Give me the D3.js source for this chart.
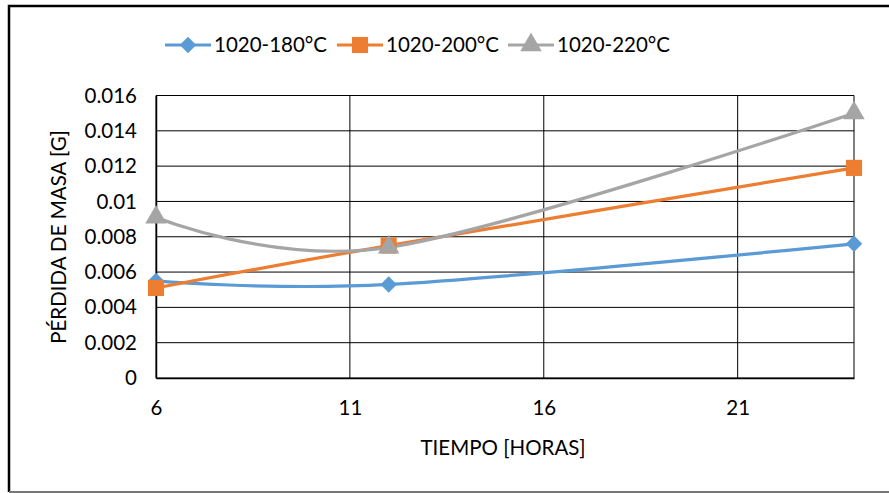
<!DOCTYPE html>
<html>
<head>
<meta charset="utf-8">
<script src="https://cdn.jsdelivr.net/npm/d3@7"></script>
<style>
  body { margin: 0; background: #fff; }
  svg { display: block; font-family: Lato, "Open Sans", sans-serif; }
</style>
</head>
<body>
<svg id="chart" width="889" height="493"></svg>
<script>
// datos
const horas = [6, 12, 24]
const serieNames = ['1020-180°C', '1020-200°C', '1020-220°C']
const perdida180 = [0.0055, 0.0053, 0.0076]
const perdida200 = [0.0051, 0.0075, 0.0119]
const perdida220 = [0.0091, 0.0074, 0.0150]
const xTicks = [6, 11, 16, 21]
const yTicks = [0, 0.002, 0.004, 0.006, 0.008, 0.01, 0.012, 0.014, 0.016]

const colors = ['#5B9BD5', '#ED7D31', '#A5A5A5']
// rombo = cuadrado girado 45 grados (como en Excel)
const symbols = [d3.symbolSquare, d3.symbolSquare, d3.symbolTriangle]
const symbolRot = [45, 0, 0]
const symbolSizes = [135, 260, 200]
const fontSize = 20.5

const series = [perdida180, perdida200, perdida220].map((vals, i) => ({
  name: serieNames[i],
  color: colors[i],
  points: vals.map((v, j) => ({ x: horas[j], y: v }))
}))

const svg = d3.select('#chart')

// marco exterior
svg.append('path')
  .attr('d', 'M9,492 L9,6 L889,6')
  .attr('fill', 'none')
  .attr('stroke', '#000')
  .attr('stroke-width', 2.5)
svg.append('line')
  .attr('x1', 9).attr('x2', 889).attr('y1', 492).attr('y2', 492)
  .attr('stroke', '#777').attr('stroke-width', 2)

const plot = { left: 156, right: 854, top: 95.5, bottom: 378 }

const x = d3.scaleLinear().domain([6, 24]).range([plot.left, plot.right])
const y = d3.scaleLinear().domain([0, 0.016]).range([plot.bottom, plot.top])

// cuadricula
const grid = svg.append('g')
grid.selectAll('line.h')
  .data(yTicks)
  .join('line')
  .attr('class', 'h')
  .attr('x1', plot.left).attr('x2', plot.right)
  .attr('y1', d => y(d)).attr('y2', d => y(d))
  .attr('stroke', '#000').attr('stroke-width', 1)
grid.selectAll('line.v')
  .data(xTicks.concat([24]))
  .join('line')
  .attr('class', 'v')
  .attr('x1', d => x(d)).attr('x2', d => x(d))
  .attr('y1', plot.top).attr('y2', plot.bottom)
  .attr('stroke', '#000').attr('stroke-width', 1)

// ejes
const yAxis = svg.append('g')
  .attr('transform', `translate(${plot.left},0)`)
  .call(d3.axisLeft(y).tickValues(yTicks).tickSize(0).tickPadding(19).tickFormat(d => String(+d.toFixed(3))))
yAxis.select('.domain').attr('stroke', '#000').attr('stroke-width', 1.5)
yAxis.selectAll('text').attr('font-size', fontSize).attr('fill', '#000')

const xAxis = svg.append('g')
  .attr('transform', `translate(0,${plot.bottom})`)
  .call(d3.axisBottom(x).tickValues(xTicks).tickSize(0).tickPadding(22))
xAxis.select('.domain').attr('stroke', '#000').attr('stroke-width', 1.5)
xAxis.selectAll('text').attr('font-size', fontSize).attr('fill', '#000')
yAxis.attr('font-family', null)
xAxis.attr('font-family', null)

// titulos
svg.append('text')
  .attr('x', 503).attr('y', 455)
  .attr('text-anchor', 'middle')
  .attr('font-size', fontSize)
  .text('TIEMPO [HORAS]')
svg.append('text')
  .attr('transform', 'translate(59,237) rotate(-90)')
  .attr('text-anchor', 'middle')
  .attr('dy', '0.36em')
  .attr('font-size', fontSize)
  .text('PÉRDIDA DE MASA [G]')

// lineas suavizadas
const line = d3.line()
  .x(d => x(d.x))
  .y(d => y(d.y))
  .curve(d3.curveCardinal.tension(0))

const g = svg.append('g')
g.selectAll('path.serie')
  .data(series)
  .join('path')
  .attr('class', 'serie')
  .attr('d', d => line(d.points))
  .attr('fill', 'none')
  .attr('stroke', d => d.color)
  .attr('stroke-width', 3.2)

series.forEach((s, i) => {
  g.selectAll(`path.m${i}`)
    .data(s.points)
    .join('path')
    .attr('class', `m${i}`)
    .attr('transform', d => `translate(${x(d.x)},${y(d.y)}) rotate(${symbolRot[i]})`)
    .attr('d', d3.symbol().type(symbols[i]).size(symbolSizes[i]))
    .attr('fill', s.color)
})

// leyenda
const legendX = [165, 337, 508]
const legend = svg.append('g')
  .selectAll('g')
  .data(series)
  .join('g')
  .attr('transform', (d, i) => `translate(${legendX[i]},45)`)
legend.append('line')
  .attr('x1', 0).attr('x2', 46)
  .attr('stroke', d => d.color).attr('stroke-width', 3.2)
legend.append('path')
  .attr('transform', (d, i) => `translate(23,0) rotate(${symbolRot[i]})`)
  .attr('d', (d, i) => d3.symbol().type(symbols[i]).size(symbolSizes[i])())
  .attr('fill', d => d.color)
legend.append('text')
  .attr('x', 49).attr('dy', '0.36em')
  .attr('font-size', fontSize)
  .text(d => d.name)
</script>
</body>
</html>
